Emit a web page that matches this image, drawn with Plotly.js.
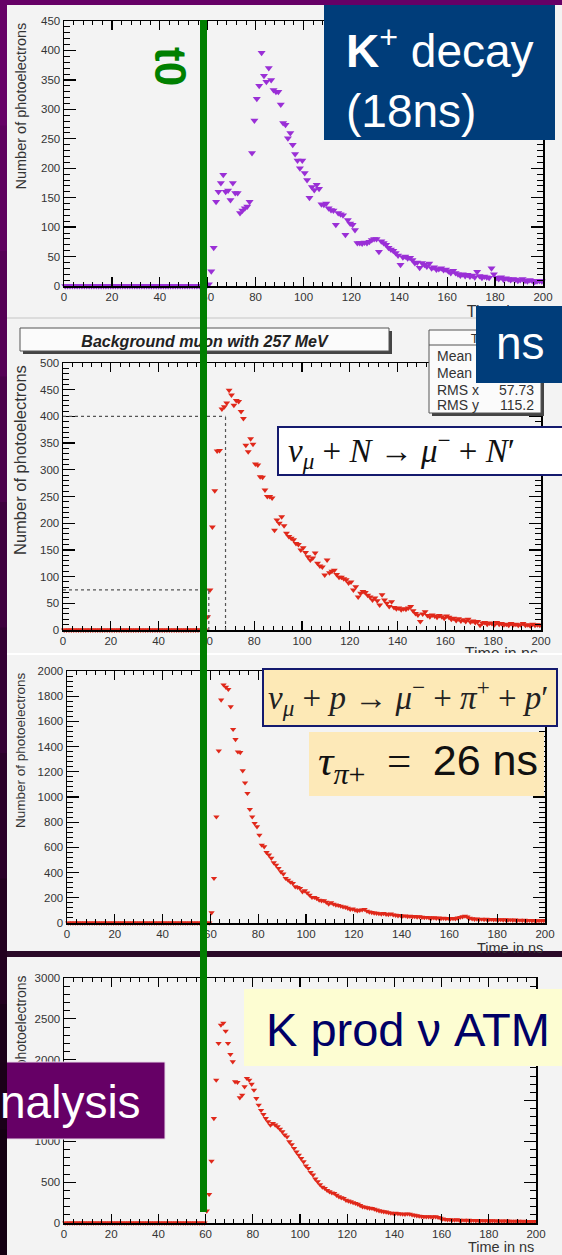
<!DOCTYPE html>
<html><head><meta charset="utf-8">
<script src="https://cdn.plot.ly/plotly-3.0.1.min.js"></script>
<style>html,body{margin:0;padding:0;background:#f3f3f3}#chart{width:562px;height:1255px}</style>
</head><body><div id="chart"></div>
<script>
// ---- Data: number of photoelectrons per 1 ns bin (0..200 ns) ----
const kDecay = [
0,0,0,0,0,0,0,0,0,0,0,0,0,0,0,0,0,0,0,0,
0,0,0,0,0,0,0,0,0,0,0,0,0,0,0,0,0,0,0,0,
0,0,0,0,0,0,0,0,0,0,0,0,0,0,0,0,0,0,0,0,
3,25,65,143,160,175,189,160,162,146,175,158,158,124,128,132,135,143,226,281,
318,340,396,357,347,370,350,333,330,330,308,277,274,251,260,240,224,213,200,213,
192,180,150,168,163,172,165,139,138,140,132,129,128,104,124,122,120,87,112,106,
104,95,73,73,72,74,73,75,78,80,80,58,76,73,70,65,62,60,56,52,
36,49,50,47,48,44,39,40,31,39,36,33,38,30,32,28,29,30,27,28,
25,22,26,22,20,18,20,17,19,16,18,15,24,17,14,16,15,14,30,20,
14,12,15,11,13,12,10,12,11,9,10,12,9,8,10,9,7,8,9,8];
const bgMuon = [
0,0,0,0,0,0,0,0,0,0,0,0,0,0,0,0,0,0,0,0,
0,0,0,0,0,0,0,0,0,0,0,0,0,0,0,0,0,0,0,0,
0,0,0,0,0,0,0,0,0,0,0,0,0,0,0,0,0,0,0,0,
25,75,193,261,335,336,414,418,425,449,440,421,430,428,409,396,346,334,358,348,
311,309,287,286,262,250,250,247,187,206,200,212,195,181,175,172,169,162,160,150,
154,145,137,131,135,144,125,120,118,103,131,107,110,112,104,99,99,96,94,88,
90,75,81,62,69,72,70,65,62,56,60,55,47,66,56,50,44,53,42,40,
41,38,40,39,41,44,36,31,28,16,30,34,27,25,28,26,24,27,25,22,
26,24,20,22,18,21,17,19,16,20,15,17,14,16,9,13,14,11,13,12,
10,14,11,12,10,11,9,12,10,11,9,10,12,9,10,8,11,9,10,9];
const pionProd = [
0,0,0,0,0,0,0,0,0,0,0,0,0,0,0,0,0,0,0,0,
0,0,0,0,0,0,0,0,0,0,0,0,0,0,0,0,0,0,0,0,
0,0,0,0,0,0,0,0,0,0,0,0,0,0,0,0,0,0,0,0,
82,355,843,1367,1770,1890,1871,1855,1717,1537,1457,1359,1354,1209,1113,1029,902,843,791,764,
698,619,606,560,540,514,479,460,434,407,389,355,341,325,315,288,283,275,248,256,
240,222,204,204,195,182,177,177,165,151,161,150,143,140,134,128,125,118,109,112,
104,98,102,105,109,95,88,84,80,78,75,72,76,70,68,72,65,62,58,60,
55,57,52,54,50,52,48,50,46,44,45,42,40,42,38,40,36,38,35,37,
34,36,33,40,45,50,55,48,38,34,30,32,29,31,28,30,27,29,26,28,
25,27,24,26,23,25,22,24,21,23,20,22,19,21,18,20,17,19,18,20];
const kProd = [
0,0,0,0,0,0,0,0,0,0,0,0,0,0,0,0,0,0,0,0,
0,0,0,0,0,0,0,0,0,0,0,0,0,0,0,0,0,0,0,0,
0,0,0,0,0,0,0,0,0,0,0,0,0,0,0,0,0,0,0,0,
147,351,759,1281,1750,2200,2424,2448,2350,2200,2065,1975,1730,1722,1534,1567,1669,1771,1750,1700,
1628,1526,1444,1380,1330,1281,1240,1199,1220,1200,1179,1150,1118,1080,1056,995,960,914,870,832,
790,751,700,669,620,588,540,506,470,440,424,400,383,370,363,340,322,310,302,280,
270,261,250,241,230,215,200,195,188,182,180,170,160,150,145,139,135,128,122,118,
120,115,112,110,108,112,110,100,95,90,85,80,77,75,78,76,74,77,70,60,
50,45,40,42,38,36,40,35,33,36,32,34,30,33,29,31,28,30,27,29,
26,28,25,27,24,26,23,25,22,24,21,23,22,20,22,19,21,20,18,20];
// dashed cut markers in the background-muon panel (ns, photoelectrons)
const cutTimes = [68, 61];
const cutLevels = [400, 75];
// stats box entries (values of the two Mean rows are hidden under the "ns" box)
const statLabels = ["Mean", "Mean", "RMS x", "RMS y"];
const statValues = ["", "", "57.73", "115.2"];
const binCenters = kDecay.map((_, i) => i + 0.5);

// ---- helpers (pixel -> paper) ----
const W = 562, H = 1255;
const X = v => v / W, Y = v => 1 - v / H;
function rect(x0, y0, x1, y1, fill, line, extra) {
  return Object.assign({type:'rect', xref:'paper', yref:'paper', layer:'above',
    x0:X(x0), x1:X(x1), y0:Y(y1), y1:Y(y0), fillcolor:fill, line: line || {width:0}}, extra || {});
}
function lbl(x0, y0, x1, y1, text, font, pos, angle) {
  return rect(x0, y0, x1, y1, 'rgba(0,0,0,0)', {width:0},
    {label:{text:text, font:font, textposition:pos || 'middle center', padding:0, textangle: angle || 0}});
}
const TICKF = {family:'Liberation Sans, Arial, sans-serif', size:11.5, color:'#333'};
function xax(d0, d1, anchor) {
  return {domain:[X(d0), X(d1)], anchor:anchor, range:[0,200], tick0:0, dtick:20,
    showline:true, linecolor:'#000', linewidth:1.5, mirror:'allticks', ticks:'inside', ticklen:9,
    tickwidth:1.3, tickcolor:'#000', showgrid:false, zeroline:false, tickfont:TICKF,
    minor:{dtick:4, ticklen:4, tickwidth:1, tickcolor:'#000', ticks:'inside', showgrid:false}};
}
function yax(top, bottom, anchor, maxv, dt, mdt) {
  return {domain:[Y(bottom), Y(top)], anchor:anchor, range:[0,maxv], tick0:0, dtick:dt,
    showline:true, linecolor:'#000', linewidth:1.5, mirror:'allticks', ticks:'inside', ticklen:12,
    tickwidth:1.3, tickcolor:'#000', showgrid:false, zeroline:false, tickfont:TICKF,
    minor:{dtick:mdt, ticklen:6, tickwidth:1, tickcolor:'#000', ticks:'inside', showgrid:false}};
}
function tr(vals, xa, ya, color, size) {
  return {type:'scatter', mode:'markers', x:binCenters, y:vals, xaxis:xa, yaxis:ya, cliponaxis:false,
    marker:{symbol:'triangle-down', size:size, color:color, line:{width:0}}, hoverinfo:'skip'};
}
const PURPLE = '#9a2fd6', RED = '#e0281a';
const data = [
  tr(kDecay, 'x', 'y', PURPLE, 7),
  tr(bgMuon, 'x2', 'y2', RED, 6),
  tr(pionProd, 'x3', 'y3', RED, 5.5),
  tr(kProd, 'x4', 'y4', RED, 5.5)
];

const SANS = 'Liberation Sans, Arial, sans-serif';
const SERIF = 'Liberation Serif, DejaVu Serif, serif';
const shapes = [];
// panel separators
shapes.push(rect(7, 317, 562, 319, '#dcdcdc'));
// dashed cut lines (panel 2)
cutTimes.forEach((t, i) => {
  shapes.push({type:'line', xref:'x2', yref:'y2', x0:0, x1:t, y0:cutLevels[i], y1:cutLevels[i], layer:'above',
    line:{color:'#555', width:1.2, dash:'dot'}});
  shapes.push({type:'line', xref:'x2', yref:'y2', x0:t, x1:t, y0:0, y1:cutLevels[i], layer:'above',
    line:{color:'#555', width:1.2, dash:'dot'}});
});
// x titles that are partly covered
shapes.push(lbl(380, 300, 543, 318, 'Time in ns', {family:SANS, size:16, color:'#333'}, 'middle right'));
shapes.push(lbl(380, 642, 541, 660, 'Time in ns', {family:SANS, size:16, color:'#333'}, 'middle right'));
shapes.push(rect(7, 653, 562, 655, '#ffffff'));
shapes.push(rect(7, 655, 562, 662, '#f3f3f3'));
// panel 4 y title (partly hidden)
shapes.push(lbl(10, 975, 30, 1137, 'Number of photoelectrons', {family:SANS, size:14, color:'#333'}, 'middle center', -90));
// title box panel 2
shapes.push(rect(23, 331, 392, 354, '#444'));
shapes.push(rect(20, 328, 389, 351, '#fbfbfb', {color:'#555', width:1}));
shapes.push(lbl(20, 328, 389, 351, '<b><i>Background muon with 257 MeV</i></b>', {family:SANS, size:16, color:'#222'}, 'middle center'));
// stats box
shapes.push(rect(432, 333, 544, 416, '#444'));
shapes.push(rect(429, 330, 541, 413, '#fbfbfb', {color:'#555', width:1}));
shapes.push({type:'line', xref:'paper', yref:'paper', x0:X(429), x1:X(541), y0:Y(345), y1:Y(345), layer:'above', line:{color:'#555', width:1}});
shapes.push(lbl(429, 330, 541, 345, 'Time', {family:SANS, size:13, color:'#333'}, 'middle center'));
const rowY = [355, 372, 389, 404];
statLabels.forEach((s, i) => {
  shapes.push(lbl(434, rowY[i]-8, 500, rowY[i]+8, s, {family:SANS, size:14, color:'#333'}, 'middle left'));
  if (statValues[i]) shapes.push(lbl(480, rowY[i]-8, 537, rowY[i]+8, statValues[i], {family:SANS, size:14, color:'#333'}, 'middle right'));
});
// overlay boxes
shapes.push(rect(324, 5, 555, 140, '#003d7a'));
shapes.push(rect(476, 306, 562, 383, '#003d7a'));
shapes.push(rect(278, 427, 570, 475, '#ffffff', {color:'#141a6e', width:2}));
shapes.push(rect(263, 669, 557, 726, '#fde9b6', {color:'#141a6e', width:2}));
shapes.push(rect(309, 732, 544, 796, '#fde9b8'));
shapes.push(rect(244, 989, 562, 1066, '#fdfdd2'));
shapes.push(rect(-2, 1062, 165, 1139, '#660066', {color:'#e8d8e8', width:1}));
// frame: top strip, left gradient strip, dark separator
shapes.push(rect(0, 0, 562, 5, '#660066'));
const strip = ['#660066','#5e005e','#550055','#4a004a','#3e003e','#330033','#2a0029','#22001f','#1a0018','#140012'];
strip.forEach((c, i) => shapes.push(rect(0, i*H/strip.length, 7, (i+1)*H/strip.length + 1, c)));
shapes.push(rect(7, 951, 562, 957, '#2a0a28'));
// green t0 line
shapes.push({type:'line', xref:'paper', yref:'paper', x0:X(203.5), x1:X(203.5), y0:Y(1212), y1:Y(20), layer:'above',
  line:{color:'#007f00', width:7}});

const annotations = [
  {text:'Number of photoelectrons', textangle:-90, x:X(20), y:Y(21), xanchor:'center', yanchor:'top', font:{family:SANS, size:14.5, color:'#333'}},
  {text:'Number of photoelectrons', textangle:-90, x:X(20), y:Y(363), xanchor:'center', yanchor:'top', font:{family:SANS, size:16.5, color:'#333'}},
  {text:'Number of photoelectrons', textangle:-90, x:X(20), y:Y(670), xanchor:'center', yanchor:'top', font:{family:SANS, size:13.5, color:'#333'}},
  {text:'Time in ns', x:X(545), y:Y(948), xanchor:'right', yanchor:'middle', font:{family:SANS, size:14.5, color:'#333'}},
  {text:'Time in ns', x:X(536), y:Y(1247), xanchor:'right', yanchor:'middle', font:{family:SANS, size:14.5, color:'#333'}},
  {text:'<b>t0</b>', textangle:90, x:X(170), y:Y(66), xanchor:'center', yanchor:'middle', font:{family:SANS, size:44, color:'#008000'}},
  {text:'<b>K</b><sup>+</sup> decay<br>(18ns)', align:'left', x:X(344), y:Y(78), xanchor:'left', yanchor:'middle', font:{family:SANS, size:46, color:'#ffffff'}},
  {text:'ns', x:X(520), y:Y(343), xanchor:'center', yanchor:'middle', font:{family:SANS, size:46, color:'#ffffff'}},
  {text:'<i>ν</i><sub><i>μ</i></sub> + <i>N</i> → <i>μ</i><sup>−</sup> + <i>N</i>′', x:X(286), y:Y(450), xanchor:'left', yanchor:'middle', font:{family:SERIF, size:33, color:'#111'}},
  {text:'<i>ν</i><sub><i>μ</i></sub> + <i>p</i> → <i>μ</i><sup>−</sup> + <i>π</i><sup>+</sup> + <i>p</i>′', x:X(266), y:Y(697), xanchor:'left', yanchor:'middle', font:{family:SERIF, size:33, color:'#222'}},
  {text:'<i>τ</i><sub><i>π</i>+</sub>&nbsp; =&nbsp; <span style="font-family:Liberation Sans">26 ns</span>', x:X(316), y:Y(763), xanchor:'left', yanchor:'middle', font:{family:SERIF, size:43, color:'#111'}},
  {text:'K prod ν ATM', x:X(264), y:Y(1029), xanchor:'left', yanchor:'middle', font:{family:SANS, size:47, color:'#000066'}},
  {text:'nalysis', x:X(143), y:Y(1102), xanchor:'right', yanchor:'middle', font:{family:SANS, size:46, color:'#ffffff'}}
].map(a => Object.assign({xref:'paper', yref:'paper', showarrow:false}, a));

const layout = {
  width:W, height:H, margin:{l:0, r:0, t:0, b:0},
  paper_bgcolor:'#f3f3f3', plot_bgcolor:'#f3f3f3', showlegend:false,
  xaxis: xax(64, 543, 'y'),   yaxis: yax(21, 286, 'x', 450, 50, 10),
  xaxis2: xax(63, 541, 'y2'), yaxis2: yax(363, 630, 'x2', 500, 50, 10),
  xaxis3: xax(67, 545, 'y3'), yaxis3: yax(671, 923, 'x3', 2000, 200, 40),
  xaxis4: xax(64, 536, 'y4'), yaxis4: yax(978, 1223, 'x4', 3000, 500, 100),
  shapes: shapes, annotations: annotations
};
Plotly.newPlot('chart', data, layout, {staticPlot:true, displayModeBar:false});
</script></body></html>
